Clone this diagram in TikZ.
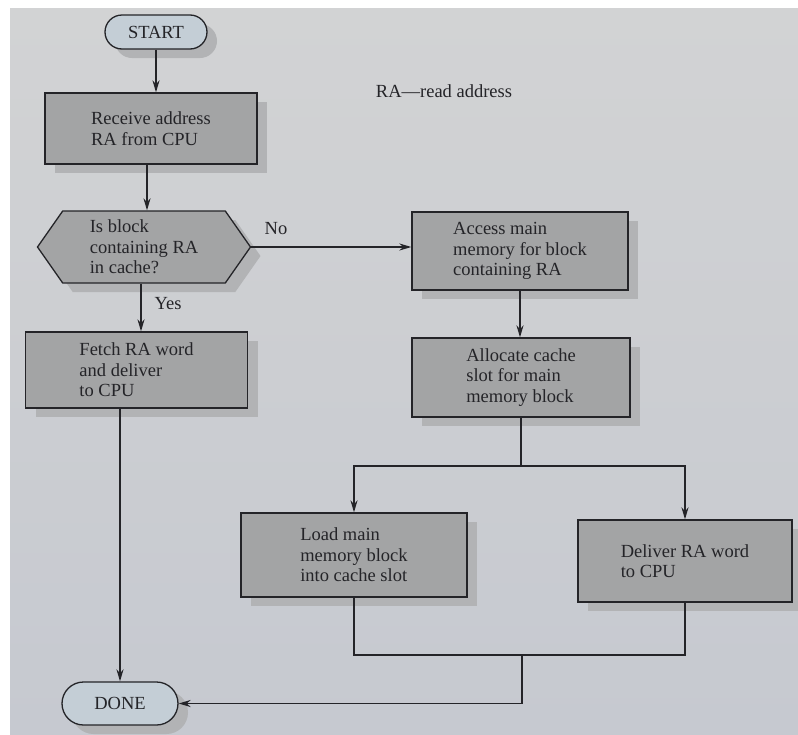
\documentclass[tikz,border=0pt]{standalone}
\usepackage{fontspec}
\setmainfont{Liberation Serif}
\usetikzlibrary{arrows.meta,shadows,shapes.symbols}

\definecolor{pagetop}{RGB}{210,211,212}
\definecolor{pagebot}{RGB}{198,201,208}
\definecolor{boxfill}{RGB}{163,164,165}
\definecolor{shadowc}{RGB}{178,179,181}
\definecolor{termfill}{RGB}{196,206,214}
\definecolor{ink}{RGB}{36,36,40}

\tikzset{
  txt/.style={font=\fontsize{18.5}{20.5}\selectfont, text=ink},
  shade box/.style={drop shadow={shadow xshift=10pt, shadow yshift=-9pt, fill=shadowc, opacity=1}},
  procbox/.style={txt, rectangle, draw=ink, line width=1.3pt, fill=boxfill, align=left, inner sep=0pt, shade box},
  decbox/.style={txt, signal, signal to=west and east, signal pointer angle=110, draw=ink, line width=1.3pt, fill=boxfill, align=left, inner sep=0pt, shade box},
  termbox/.style={txt, rectangle, draw=ink, line width=1.3pt, fill=termfill, inner sep=0pt, shade box},
  flow/.style={draw=ink, line width=1.9pt},
  arr/.style={flow, -{Stealth[length=12pt,width=7pt]}},
  lbl/.style={txt}
}

\begin{document}
\begin{tikzpicture}[x=1pt,y=-1pt]
  \useasboundingbox (0,0) rectangle (798,734);
  \fill[white] (0,0) rectangle (798,734);
  \shade[top color=pagetop, bottom color=pagebot] (10,8) rectangle (798,734);

  % legend
  \node[lbl] (legend) at (444,91) {RA---read address};

  % terminals
  \node[termbox, minimum width=102pt, minimum height=34pt, rounded corners=17pt] (start) at (156,32) {START};
  \node[termbox, minimum width=116pt, minimum height=43pt, rounded corners=21.5pt] (done) at (120,703.5) {DONE};

  % process steps
  \node[procbox, minimum width=212pt, minimum height=71pt] (recv) at (151,128.5)
    {Receive address\\RA from CPU};
  \node[decbox, minimum width=213pt, minimum height=72pt] (dec) at (144,247)
    {Is block\\containing RA\\in cache?};
  \node[procbox, minimum width=216pt, minimum height=78pt] (acc) at (520,251)
    {Access main\\memory for block\\containing RA};
  \node[procbox, minimum width=218pt, minimum height=79pt] (alloc) at (521,377.5)
    {Allocate cache\\slot for main\\memory block};
  \node[procbox, minimum width=222pt, minimum height=76pt] (fetch) at (136.5,370)
    {Fetch RA word\\and deliver\\to CPU};
  \node[procbox, minimum width=226pt, minimum height=84pt] (load) at (354,555)
    {Load main\\memory block\\into cache slot};
  \node[procbox, minimum width=214pt, minimum height=82pt] (deliv) at (685,561)
    {Deliver RA word\\to CPU};

  % connectors
  \draw[arr] (start.south) -- (start.south |- recv.north);
  \draw[arr] ([xshift=-4pt]recv.south) -- ([xshift=-4pt]recv.south |- dec.north);
  \draw[arr] (dec.east) -- (dec.east -| acc.west);
  \node[lbl] (no) at (276,229) {No};
  \draw[arr] ([xshift=-3pt]dec.south) -- ([xshift=-3pt]dec.south |- fetch.north);
  \node[lbl] (yes) at (168,304) {Yes};
  \draw[arr] (done.north |- fetch.south) -- (done.north);
  \draw[arr] (acc.south) -- (acc.south |- alloc.north);

  \path (alloc.south) ++(0,48) coordinate (split);
  \draw[flow] (alloc.south) -- (split);
  \draw[arr] (split) -| (load.north);
  \draw[arr] (split) -| (deliv.north);

  \coordinate (join) at (522,655);
  \draw[flow] (load.south) |- (join);
  \draw[flow] (deliv.south) |- (join);
  \draw[arr] (join) |- (done.east);
\end{tikzpicture}
\end{document}
